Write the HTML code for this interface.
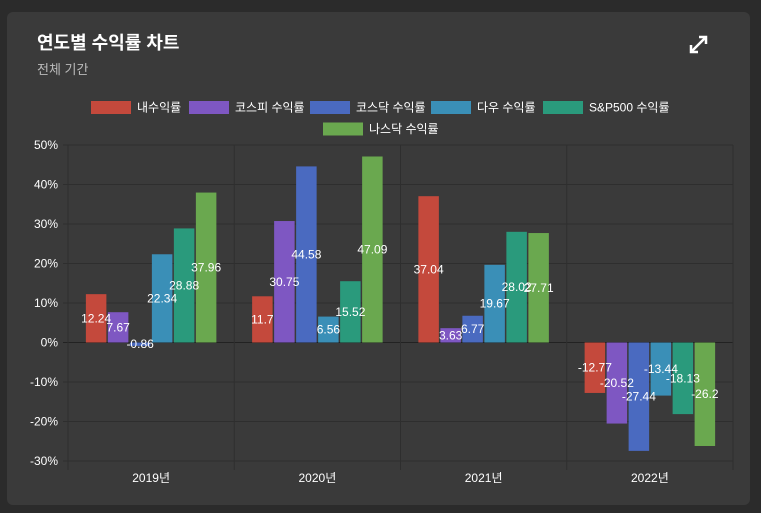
<!DOCTYPE html>
<html><head><meta charset="utf-8"><style>
body{margin:0;background:#2b2b2b;width:761px;height:513px;overflow:hidden;font-family:"Liberation Sans","Noto Sans CJK KR",sans-serif}
#card{position:absolute;left:7px;top:12px;width:743px;height:493px;background:#3a3a3a;border-radius:6px}
#title{position:absolute;left:30px;top:17px;color:#fff;font-size:18px;font-weight:bold}
#sub{position:absolute;left:30px;top:47px;color:#bbb;font-size:13px}
svg{position:absolute;left:0;top:0}
</style></head><body>
<div id="card">
<div id="title">연도별 수익률 차트</div>
<div id="sub">전체 기간</div>
</div>
<svg id="s" width="761" height="513" font-family="Liberation Sans, Noto Sans CJK KR, sans-serif">
<g stroke="#fff" stroke-width="2.5" fill="none">
<line x1="691" y1="52" x2="706" y2="37"/><polyline points="699,37 706,37 706,44"/><polyline points="691,45 691,52 698,52"/>
</g>
</svg>
<script>
const categories=["2019년","2020년","2021년","2022년"];
const seriesNames=["내수익률","코스피 수익률","코스닥 수익률","다우 수익률","S&P500 수익률","나스닥 수익률"];
const s0=[12.24,11.7,37.04,-12.77];
const s1=[7.67,30.75,3.63,-20.52];
const s2=[-0.86,44.58,6.77,-27.44];
const s3=[22.34,6.56,19.67,-13.44];
const s4=[28.88,15.52,28.02,-18.13];
const s5=[37.96,47.09,27.71,-26.2];
const yTicks=[50,40,30,20,10,0,-10,-20,-30];
const series=[s0,s1,s2,s3,s4,s5];
const colors=["#c4493c","#7e57c2","#4a6ac0","#3a8fb7","#2a9a7c","#6aa84f"];
const NS="http://www.w3.org/2000/svg",svg=document.getElementById('s');
function mk(t,a,txt){const e=document.createElementNS(NS,t);for(const k in a)e.setAttribute(k,a[k]);if(txt!=null)e.textContent=txt;svg.appendChild(e);return e;}
const L=68,R=733,T=145,B=461;
const y=v=>T+(50-v)/80*(B-T);
const cw=(R-L)/categories.length;
const x=i=>L+cw*(i+0.5);
yTicks.forEach(t=>{
 const g=mk('line',{x1:L-5,x2:R,y1:y(t),y2:y(t),stroke:t===0?'#222':'#2e2e2e','stroke-width':1});
 
 const l=mk('text',{x:L-10,y:y(t)+4,fill:'#fff','font-size':12,'text-anchor':'end'},t+'%');
 
});
for(let i=0;i<=categories.length;i++){
 const g=mk('line',{x1:L+cw*i,x2:L+cw*i,y1:T,y2:B+9,stroke:'#2e2e2e','stroke-width':1});
 
}
categories.forEach((c,i)=>{
 const l=mk('text',{x:x(i),y:482,fill:'#fff','font-size':12,'text-anchor':'middle'},c);
 
});
const bw=20.5,gap=1.5,gw=6*bw+5*gap;
const labels=[];
series.forEach((s,k)=>{s.forEach((v,i)=>{
 const bx=x(i)-gw/2+k*(bw+gap);
 const top=Math.min(y(v),y(0)),h=Math.abs(y(v)-y(0));
 const r=mk('rect',{x:bx,y:top,width:bw,height:Math.max(h,1),fill:colors[k]});
 
 labels.push([bx+bw/2,(y(v)+y(0))/2+4,String(v)]);
});});
labels.forEach(p=>{
 const t=mk('text',{x:p[0],y:p[1],fill:'#fff','font-size':12,'text-anchor':'middle'},p[2]);
 
});
const row1=[[91,0],[189,1],[310,2],[431,3],[543,4]],row2=[[323,5]];
[[row1,107],[row2,128.5]].forEach(([row,yy])=>row.forEach(([lx,k])=>{
 const r=mk('rect',{x:lx,y:yy-6,width:40,height:13,fill:colors[k]});
 
 const t=mk('text',{x:lx+46,y:yy+4.5,fill:'#fff','font-size':12},seriesNames[k]);
 
}));
</script>
</body></html>
